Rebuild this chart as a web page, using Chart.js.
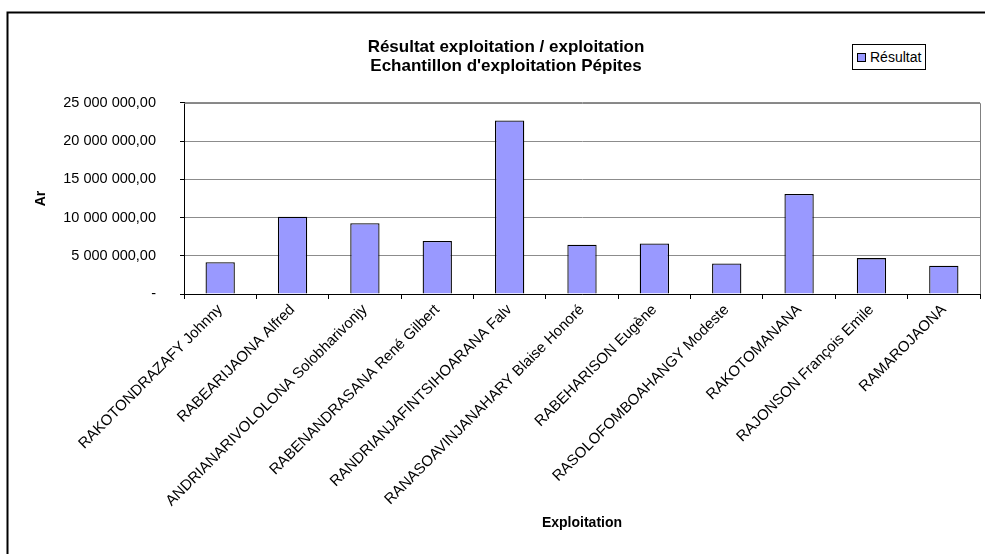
<!DOCTYPE html>
<html>
<head>
<meta charset="utf-8">
<script src="https://cdn.jsdelivr.net/npm/chart.js@4.4.1/dist/chart.umd.min.js"></script>
<style>
  html, body { margin: 0; padding: 0; background: #fff; }
  #wrap { position: relative; width: 985px; height: 554px; }
  #legendBox {
    position: absolute; left: 852px; top: 44px; width: 74px; height: 26px;
    border: 1px solid #000; background: #fff; box-sizing: border-box;
    font-family: "Liberation Sans", Arial, sans-serif; font-size: 14px; color: #000;
    display: flex; align-items: center; padding-left: 4px;
  }
  #legendBox span.sq {
    display: inline-block; width: 7px; height: 7px; background: #9999ff;
    border: 1px solid #000; margin-right: 4px;
  }
</style>
</head>
<body>
<div id="wrap">
  <canvas id="resultChart"></canvas>
  <div id="legendBox"><span class="sq"></span>Résultat</div>
</div>
<script>
const exploitations = [
  "RAKOTONDRAZAFY Johnny",
  "RABEARIJAONA Alfred",
  "ANDRIANARIVOLOLONA Solobharivonjy",
  "RABENANDRASANA René Gilbert",
  "RANDRIANJAFINTSIHOARANA Falv",
  "RANASOAVINJANAHARY Blaise Honoré",
  "RABEHARISON Eugène",
  "RASOLOFOMBOAHANGY Modeste",
  "RAKOTOMANANA",
  "RAJONSON François Emile",
  "RAMAROJAONA"
];
const resultats = [4150000, 10100000, 9250000, 6950000, 22700000, 6450000, 6600000, 4000000, 13100000, 4700000, 3700000];
const titleLines = ["Résultat exploitation / exploitation", "Echantillon d'exploitation Pépites"];
const yTicks = [0, 5000000, 10000000, 15000000, 20000000, 25000000];

const FONT = '"Liberation Sans", Arial, sans-serif';

// format like excel: "25 000 000,00", zero shown as "-"
function formatAr(v) {
  if (v === 0) return "-";
  const parts = v.toFixed(2).split(".");
  return parts[0].replace(/\B(?=(\d{3})+(?!\d))/g, " ") + "," + parts[1];
}

// outer frame of the chart object + grey plot area border (top/right)
const framePlugin = {
  id: "frame",
  afterDraw(chart) {
    const ctx = chart.ctx;
    const a = chart.chartArea;
    ctx.save();
    ctx.strokeStyle = "#808080";
    ctx.lineWidth = 1;
    ctx.beginPath();
    ctx.moveTo(a.left, a.top + 0.5);
    ctx.lineTo(a.right + 0.5, a.top + 0.5);
    ctx.lineTo(a.right + 0.5, a.bottom);
    ctx.stroke();
    ctx.strokeStyle = "#000";
    ctx.lineWidth = 2;
    ctx.beginPath();
    ctx.moveTo(7.5, 560);
    ctx.lineTo(7.5, 12.5);
    ctx.lineTo(990, 12.5);
    ctx.stroke();
    ctx.restore();
  }
};

const ctx = document.getElementById("resultChart").getContext("2d");
const resultChart = new Chart(ctx, {
  type: "bar",
  data: {
    labels: exploitations,
    datasets: [
      {
        label: "Résultat",
        data: resultats,
        backgroundColor: "#9999ff",
        borderColor: "#000",
        borderWidth: 1.3,
        categoryPercentage: 1,
        barPercentage: 0.405,
      },
    ],
  },
  options: {
    responsive: true,
    maintainAspectRatio: false,
    animation: false,
    layout: {
      padding: { top: 37, left: 32, right: 5, bottom: 0 },
    },
    plugins: {
      legend: { display: false },
      tooltip: { enabled: false },
      title: {
        display: true,
        text: titleLines,
        color: "#000",
        font: { family: FONT, size: 17, weight: "bold", lineHeight: 1.16 },
        padding: { top: 0, bottom: 26.5 },
      },
    },
    scales: {
      x: {
        afterFit: function (scale) {
          scale.height = 260;
        },
        grid: {
          offset: true,
          drawOnChartArea: false,
          drawTicks: true,
          tickLength: 5,
          tickColor: "#000",
        },
        border: { color: "#000", width: 1 },
        ticks: {
          autoSkip: false,
          maxRotation: 45,
          minRotation: 45,
          padding: 2,
          color: "#000",
          font: { family: FONT, size: 15 },
        },
        title: {
          display: true,
          text: "Exploitation",
          color: "#000",
          font: { family: FONT, size: 14, weight: "bold", lineHeight: 1.2 },
          padding: { top: 0, bottom: 22.6 },
        },
      },
      y: {
        min: 0,
        max: 25000000,
        afterFit: function (scale) {
          scale.width = 152;
        },
        afterBuildTicks: function (scale) {
          scale.ticks = yTicks.map((v) => ({ value: v }));
        },
        grid: {
          color: "#8c8c8c",
          tickColor: "#000",
          tickLength: 4,
          lineWidth: 1,
        },
        border: { color: "#000", width: 1 },
        ticks: {
          padding: 24,
          color: "#000",
          font: { family: FONT, size: 14.5 },
          callback: function (value) {
            return formatAr(value);
          },
        },
        title: {
          display: true,
          text: "Ar",
          color: "#000",
          font: { family: FONT, size: 14, weight: "bold", lineHeight: 1.2 },
          padding: { top: 0.6, bottom: 0 },
        },
      },
    },
  },
  plugins: [framePlugin],
});
</script>
</body>
</html>
